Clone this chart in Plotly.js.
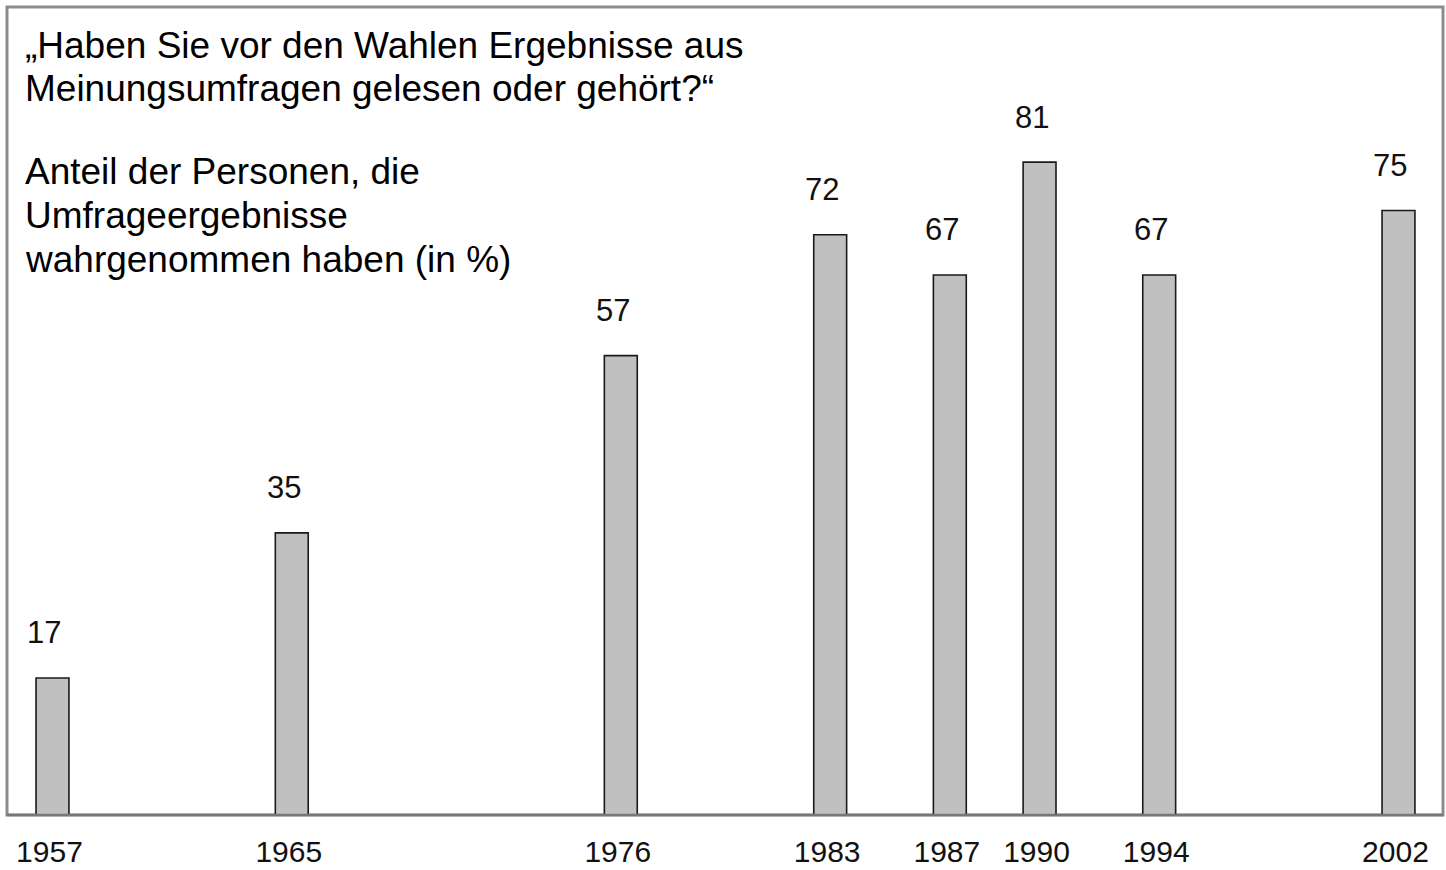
<!DOCTYPE html>
<html>
<head>
<meta charset="utf-8">
<script src="https://cdn.plot.ly/plotly-3.0.1.min.js"></script>
<style>html,body{margin:0;padding:0;background:#fff;}#chart{width:1446px;height:870px;}</style>
</head>
<body>
<div id="chart"></div>
<script>
const years = [1957, 1965, 1976, 1983, 1987, 1990, 1994, 2002];
const shares = [17, 35, 57, 72, 67, 81, 67, 75];
const yearLabels = ["1957", "1965", "1976", "1983", "1987", "1990", "1994", "2002"];
const questionLines = ["„Haben Sie vor den Wahlen Ergebnisse aus", "Meinungsumfragen gelesen oder gehört?“"];
const noteLines = ["Anteil der Personen, die", "Umfrageergebnisse", "wahrgenommen haben (in %)"];

const FONT = "Liberation Sans, Arial, Helvetica, sans-serif";

const trace = {
  type: "bar",
  x: years,
  y: shares,
  width: 1.1,
  marker: {color: "#c0c0c0", line: {color: "#1a1a1a", width: 1.6}},
  hoverinfo: "x+y"
};

const annotations = years.map((yr, i) => ({
  x: yr, y: shares[i], xref: "x", yref: "y",
  text: String(shares[i]), showarrow: false,
  xanchor: "center", yanchor: "middle",
  yshift: 45, xshift: -8,
  font: {family: FONT, size: 31, color: "#111"}
}));

// text block placement (pixel rows of line centres inside the 808px plot)
const PLOT_TOP = 7, PLOT_BOTTOM = 815;
function paperY(py) { return (PLOT_BOTTOM - py) / (PLOT_BOTTOM - PLOT_TOP); }
const lineGap = 43.5;
questionLines.forEach((t, i) => annotations.push({
  xref: "paper", yref: "paper", x: 0.011, y: paperY(45 + i * lineGap),
  xanchor: "left", yanchor: "middle", align: "left",
  text: t, showarrow: false,
  font: {family: FONT, size: 37, color: "#000"}
}));
noteLines.forEach((t, i) => annotations.push({
  xref: "paper", yref: "paper", x: 0.011, y: paperY(172 + i * lineGap),
  xanchor: "left", yanchor: "middle", align: "left",
  text: t, showarrow: false,
  font: {family: FONT, size: 37, color: "#000"}
}));

const layout = {
  width: 1446, height: 870,
  margin: {l: 7, r: 3, t: 7, b: 55},
  paper_bgcolor: "#fff", plot_bgcolor: "#fff",
  showlegend: false,
  xaxis: {
    range: [1955.479, 2003.488],
    tickmode: "array", tickvals: years, ticktext: yearLabels,
    showgrid: false, zeroline: false, showline: false,
    ticks: "", ticklabelstandoff: 16, ticklabelshift: -3,
    tickfont: {family: FONT, size: 30, color: "#111"}
  },
  yaxis: {
    range: [0, 100.25],
    showgrid: false, zeroline: false, showline: false,
    showticklabels: false, ticks: ""
  },
  shapes: [
    {type: "rect", xref: "paper", yref: "paper", x0: 0, x1: 1, y0: 0, y1: 1,
     line: {color: "#8c8c8c", width: 3}, layer: "below"},
    {type: "line", xref: "paper", yref: "paper", x0: 0, x1: 1, y0: 0, y1: 0,
     line: {color: "#777", width: 2.5}, layer: "above"}
  ],
  annotations: annotations
};

Plotly.newPlot("chart", [trace], layout, {displayModeBar: false, staticPlot: true});
</script>
</body>
</html>
